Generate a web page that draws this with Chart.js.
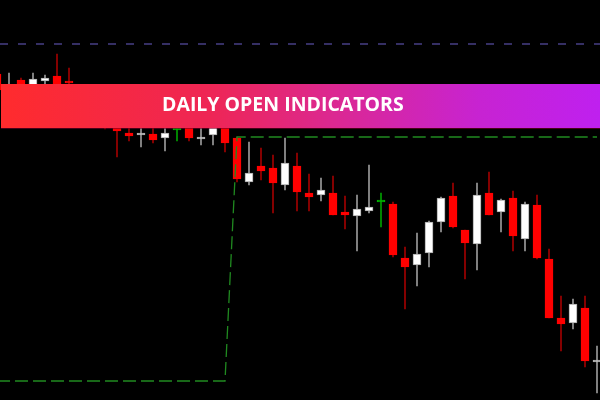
<!DOCTYPE html>
<html>
<head>
<meta charset="utf-8">
<script src="https://cdn.jsdelivr.net/npm/chart.js@4"></script>
<style>
  html, body { margin: 0; padding: 0; background: #000; }
  #wrap { position: relative; width: 600px; height: 400px; background: #000; overflow: hidden; }
  #banner {
    position: absolute; left: 1px; top: 84px; width: 599px; height: 44px;
    background: linear-gradient(90deg, #ff2b2d 0%, #ee2655 35%, #dc2890 55%, #c723d2 80%, #bf20ef 100%);
    box-shadow: 0 1px 0 rgba(120, 0, 40, 0.6);
  }
  #banner span {
    position: absolute; left: 161px; top: 0; line-height: 39px;
    color: #fff; font-family: "Open Sans", sans-serif; font-weight: 700; font-size: 19.5px;
    letter-spacing: 0; white-space: nowrap;
  }
</style>
</head>
<body>
<div id="wrap">
  <canvas id="candles" width="600" height="400"></canvas>
  <div id="banner"><span>DAILY OPEN INDICATORS</span></div>
</div>
<script>
;(function(){
  // price values (arbitrary units), one per candle
  const opens  = [326,308,320,312,319,324,318,308,297,284,276,267,265,266,262,270,275,261,265,273,
                  262,218,234,232,215,234,207,205,207,188,184,189,198,196,142,135,147,178,204,170,
                  156,207,188,202,161,195,141,82,77,92,38]
  const highs  = [326,327,322,327,325,346,332,314,302,290,282,274,276,274,274,272,278,275,278,276,
                  263,258,252,245,262,247,226,222,224,204,205,235,207,198,153,167,179,203,217,170,
                  217,228,201,209,198,205,151,104,101,104,54]
  const lows   = [305,302,308,307,315,306,316,290,280,271,243,259,253,257,249,259,259,255,255,248,
                  218,215,220,187,210,189,189,199,185,171,149,187,173,143,91,114,133,168,172,121,
                  130,185,168,149,149,141,82,49,71,33,7]
  const closes = [310,314,313,321,322,312,317,296,286,276,269,264,267,260,267,270,262,263,276,257,
                  221,227,229,217,237,208,203,210,185,185,191,193,198,145,133,146,178,202,173,157,
                  205,185,200,164,196,142,82,76,96,39,39]

  // indicator levels per candle
  const dailyOpen = [19,19,19,19,19,19,19,19,19,19,19,19,19,19,19,19,19,19,19,19,
                     263,263,263,263,263,263,263,263,263,263,263,263,263,263,263,263,263,263,263,263,
                     263,263,263,263,263,263,263,263,263,263,263]
  const weeklyOpen = 356

  const idx = opens.map((_, i) => i - 1)

  const kind = idx.map((_, i) => closes[i] > opens[i] ? 'up' : (closes[i] < opens[i] ? 'down' : 'flat'))
  const bodyFill = { up: '#ffffff', down: '#ff0000', flat: '#00b400' }
  const bodyLine = { up: '#a8a8a8', down: '#ff0000', flat: '#00b400' }
  const wickColor = { up: '#9a9a9a', down: '#a00000', flat: '#00a000' }

  const config = {
    data: {
      datasets: [
        {
          type: 'bar',
          label: 'body',
          data: idx.map((x, i) => ({ x: x, y: [Math.min(opens[i], closes[i]), Math.max(opens[i], closes[i])] })),
          backgroundColor: kind.map(k => bodyFill[k]),
          borderColor: kind.map(k => bodyLine[k]),
          borderWidth: 1,
          borderSkipped: false,
          barThickness: 8,
          minBarLength: 2,
          grouped: false,
        },
        {
          type: 'bar',
          label: 'wick',
          data: idx.map((x, i) => ({ x: x, y: [lows[i], highs[i]] })),
          backgroundColor: kind.map(k => wickColor[k]),
          borderWidth: 0,
          barThickness: 1,
          grouped: false,
        },
        {
          type: 'line',
          label: 'daily open',
          order: -1,
          data: idx.map((x, i) => ({ x: x, y: dailyOpen[i] })),
          borderColor: '#208a20',
          borderWidth: 1.3,
          borderDash: [13, 5],
          pointRadius: 0,
          tension: 0,
        },
        {
          type: 'line',
          label: 'weekly open',
          order: -1,
          data: [{ x: -0.75, y: weeklyOpen }, { x: 49.25, y: weeklyOpen }],
          borderColor: '#473f85',
          borderWidth: 1.5,
          borderDash: [8, 10],
          pointRadius: 0,
        },
      ],
    },
    options: {
      responsive: false,
      animation: false,
      layout: { padding: 0 },
      plugins: { legend: { display: false }, tooltip: { enabled: false } },
      scales: {
        x: { type: 'linear', min: -0.75, max: 49.25, offset: false, display: false },
        y: { type: 'linear', min: 0, max: 400, display: false },
      },
    },
  }

  const ctx = document.getElementById('candles')
  let chart = new Chart(ctx, config)
})()
</script>
</body>
</html>
